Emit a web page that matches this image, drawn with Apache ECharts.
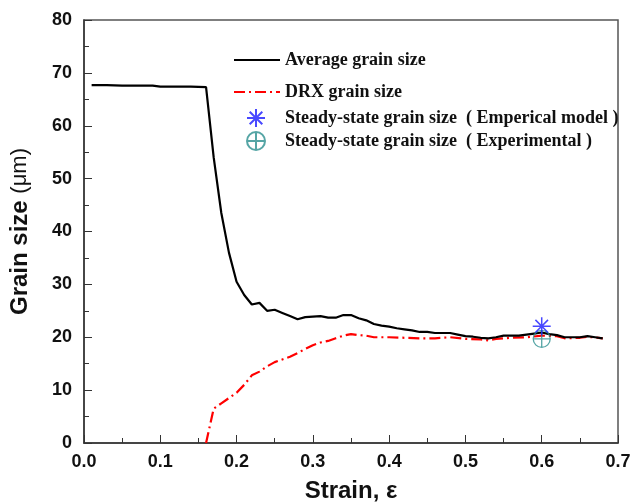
<!DOCTYPE html>
<html>
<head>
<meta charset="utf-8">
<script src="https://cdn.jsdelivr.net/npm/echarts@6/dist/echarts.min.js"></script>
<style>
  html, body { margin: 0; padding: 0; background: #fff; }
  #main { width: 633px; height: 504px; }
</style>
</head>
<body>
<div id="main"></div>
<script>
// strain values and grain sizes
var avgStrain = [0.01, 0.03, 0.05, 0.07, 0.09, 0.10, 0.12, 0.14, 0.16, 0.17, 0.18, 0.19, 0.20, 0.21, 0.22, 0.23, 0.24, 0.25, 0.26, 0.27, 0.28, 0.29, 0.30, 0.31, 0.32, 0.33, 0.34, 0.35, 0.36, 0.37, 0.38, 0.39, 0.40, 0.41, 0.42, 0.43, 0.44, 0.45, 0.46, 0.47, 0.48, 0.49, 0.50, 0.51, 0.52, 0.53, 0.54, 0.55, 0.56, 0.57, 0.58, 0.59, 0.60, 0.61, 0.62, 0.63, 0.64, 0.65, 0.66, 0.67, 0.68];
var avgSize = [67.7, 67.7, 67.6, 67.6, 67.6, 67.4, 67.4, 67.4, 67.3, 54.0, 43.5, 36.0, 30.5, 28.0, 26.2, 26.5, 25.0, 25.2, 24.6, 24.0, 23.4, 23.8, 23.9, 24.0, 23.7, 23.7, 24.2, 24.2, 23.6, 23.2, 22.5, 22.2, 22.0, 21.7, 21.5, 21.3, 21.0, 21.0, 20.8, 20.8, 20.8, 20.5, 20.2, 20.1, 19.9, 19.8, 20.0, 20.3, 20.3, 20.3, 20.5, 20.7, 20.9, 20.6, 20.4, 20.0, 20.0, 20.0, 20.2, 20.0, 19.8];

var drxStrain = [0.16, 0.17, 0.18, 0.19, 0.20, 0.21, 0.22, 0.23, 0.24, 0.25, 0.26, 0.27, 0.28, 0.29, 0.30, 0.31, 0.32, 0.33, 0.34, 0.35, 0.36, 0.37, 0.38, 0.40, 0.42, 0.44, 0.46, 0.48, 0.50, 0.52, 0.53, 0.54, 0.56, 0.58, 0.60, 0.62, 0.63, 0.65, 0.66, 0.68];
var drxSize = [0, 6.5, 7.5, 8.5, 9.5, 11.0, 12.8, 13.5, 14.5, 15.3, 15.8, 16.3, 17.0, 17.8, 18.5, 19.0, 19.3, 19.8, 20.3, 20.6, 20.4, 20.3, 20.0, 20.0, 19.9, 19.8, 19.8, 20.0, 19.7, 19.6, 19.4, 19.7, 19.9, 20.0, 20.3, 20.2, 19.8, 19.9, 20.1, 19.8];

var empiricalPoint = [[0.60, 22.1]];
var experimentalPoint = [[0.60, 19.7]];

var seriesNames = [
    'Average grain size',
    'DRX grain size',
    'Steady-state grain size  ( Emperical model )',
    'Steady-state grain size  ( Experimental )'
];

function pairs(xs, ys) {
    var out = [];
    for (var i = 0; i < xs.length; i++) out.push([xs[i], ys[i]]);
    return out;
}

var asterisk = 'path://M10,0 L10,20 M0,10 L20,10 M3,3 L17,17 M3,17 L17,3';
var circlePlus = 'path://M10,0 A10,10 0 1,1 10,20 A10,10 0 1,1 10,0 Z M10,0 L10,20 M0,10 L20,10';

var legendText = {
    fontFamily: '"Liberation Serif", "Times New Roman", serif',
    fontWeight: 'bold',
    fontSize: 18,
    color: '#111'
};

var myChart = echarts.init(document.getElementById('main'));
option = {
    animation: false,
    backgroundColor: '#fff',
    grid: {
        left: 84,
        right: 15,
        top: 20,
        bottom: 61,
        outerBoundsMode: 'none',
        show: true,
        borderColor: '#555',
        borderWidth: 1.5
    },
    legend: [
        {
            // hide the circle ECharts puts on line legend icons
            data: [
                { name: seriesNames[0], itemStyle: { opacity: 0 } },
                { name: seriesNames[1], itemStyle: { opacity: 0 } }
            ],
            orient: 'vertical',
            left: 233,
            top: 51,
            padding: 0,
            itemWidth: 46,
            itemHeight: 16,
            itemGap: 14,
            textStyle: legendText
        },
        {
            data: [seriesNames[2], seriesNames[3]],
            orient: 'vertical',
            left: 246,
            top: 108,
            padding: 0,
            itemWidth: 48,
            itemHeight: 18,
            itemGap: 3,
            textStyle: legendText
        }
    ],
    xAxis: {
        type: 'value',
        min: 0,
        max: 0.7,
        interval: 0.1,
        name: 'Strain, ε',
        nameLocation: 'middle',
        nameGap: 36,
        nameTextStyle: {
            fontFamily: 'Arial, "Liberation Sans", sans-serif',
            fontWeight: 'bold',
            fontSize: 24,
            color: '#111'
        },
        axisLine: { lineStyle: { color: '#333', width: 1.5 } },
        axisTick: { inside: true, length: 8, lineStyle: { color: '#333' } },
        minorTick: { show: true, splitNumber: 2, length: 5, lineStyle: { color: '#333' } },
        splitLine: { show: false },
        axisLabel: {
            formatter: function (v) { return v.toFixed(1); },
            fontFamily: 'Arial, "Liberation Sans", sans-serif',
            fontWeight: 'bold',
            fontSize: 18,
            color: '#111',
            margin: 10
        }
    },
    yAxis: {
        type: 'value',
        min: 0,
        max: 80,
        interval: 10,
        name: 'Grain size {u|(μm)}',
        nameLocation: 'middle',
        nameGap: 52,
        nameTextStyle: {
            fontFamily: 'Arial, "Liberation Sans", sans-serif',
            fontWeight: 'bold',
            fontSize: 24,
            color: '#111',
            rich: {
                u: {
                    fontFamily: 'Arial, "Liberation Sans", sans-serif',
                    fontWeight: 'normal',
                    fontSize: 22,
                    color: '#111'
                }
            }
        },
        axisLine: { show: true, lineStyle: { color: '#333', width: 1.5 } },
        axisTick: { inside: true, length: 8, lineStyle: { color: '#333' } },
        minorTick: { show: true, splitNumber: 2, length: 5, lineStyle: { color: '#333' } },
        splitLine: { show: false },
        axisLabel: {
            fontFamily: 'Arial, "Liberation Sans", sans-serif',
            fontWeight: 'bold',
            fontSize: 18,
            color: '#111',
            margin: 12
        }
    },
    series: [
        {
            name: seriesNames[0],
            type: 'line',
            data: pairs(avgStrain, avgSize),
            showSymbol: false,
            symbol: 'none',
            color: '#000',
            lineStyle: { color: '#000', width: 2.2 },
            z: 3
        },
        {
            name: seriesNames[1],
            type: 'line',
            data: pairs(drxStrain, drxSize),
            showSymbol: false,
            symbol: 'none',
            color: '#ff0000',
            lineStyle: { color: '#ff0000', width: 2.2, type: [11, 4, 2, 4] },
            z: 2
        },
        {
            name: seriesNames[2],
            type: 'scatter',
            data: empiricalPoint,
            symbol: asterisk,
            symbolSize: 18,
            itemStyle: { color: 'transparent', borderColor: '#1a1aff', borderWidth: 1.5 },
            z: 5
        },
        {
            name: seriesNames[3],
            type: 'scatter',
            data: experimentalPoint,
            symbol: circlePlus,
            symbolSize: 17,
            itemStyle: { color: 'transparent', borderColor: '#2a8f8f', borderWidth: 1.3 },
            z: 4
        }
    ]
};
myChart.setOption(option);
</script>
</body>
</html>
